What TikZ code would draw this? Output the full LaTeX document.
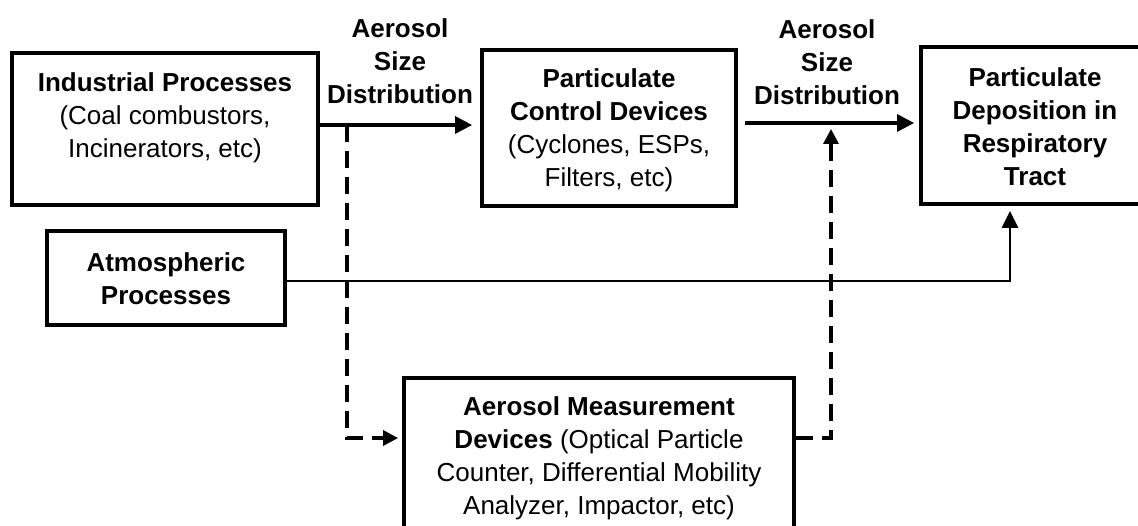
\documentclass[tikz,border=0pt]{standalone}
\usepackage{fontspec}
\setmainfont{Liberation Sans}
\usetikzlibrary{arrows.meta,calc}
\begin{document}
\begin{tikzpicture}[x=1pt,y=-1pt,
  box/.style={draw=black, line width=3.8pt, rectangle, inner sep=0pt},
  txt/.style={align=center, inner sep=0pt, font=\fontsize{26}{33}\selectfont},
  arr/.style={line width=3.2pt, -{Triangle[length=17pt,width=17pt]}},
  thinarr/.style={line width=2.6pt, -{Triangle[length=17pt,width=16pt]}},
  dasharr/.style={line width=3.2pt, dash pattern=on 17pt off 9pt, -{Triangle[length=15pt,width=15pt]}}]
\useasboundingbox (0,0) rectangle (1138,526);
\clip (0,0) rectangle (1138,526);
% boxes
\node[box, minimum width=306pt, minimum height=152pt] (ind) at (165,129) {};
\node[box, minimum width=254pt, minimum height=156pt] (ctl) at (609,128) {};
\node[box, minimum width=228pt, minimum height=157pt] (dep) at (1035,125.5) {};
\node[box, minimum width=238pt, minimum height=94pt] (atm) at (166,278) {};
\node[box, minimum width=390pt, minimum height=184pt] (mea) at (599,470) {};
% texts
\node[txt] (indT) at (165,118) {\textbf{Industrial Processes}\\(Coal combustors,\\Incinerators, etc)};
\node[txt] (ctlT) at (609,130) {\textbf{Particulate}\\\textbf{Control Devices}\\(Cyclones, ESPs,\\Filters, etc)};
\node[txt] (depT) at (1035,127) {\textbf{Particulate}\\\textbf{Deposition in}\\\textbf{Respiratory}\\\textbf{Tract}};
\node[txt] (atmT) at (166,279) {\textbf{Atmospheric}\\\textbf{Processes}};
\node[txt] (meaT) at (599,458) {\textbf{Aerosol Measurement}\\\textbf{Devices} (Optical Particle\\Counter, Differential Mobility\\Analyzer, Impactor, etc)};
\node[txt] (lab1) at (400,61) {\textbf{Aerosol}\\\textbf{Size}\\\textbf{Distribution}};
\node[txt] (lab2) at (827,62) {\textbf{Aerosol}\\\textbf{Size}\\\textbf{Distribution}};
% coordinates for dashed paths
\coordinate (d1) at (347,125);
\coordinate (d2) at (347,438);
\coordinate (d3) at (831,438);
\coordinate (d4) at (831,123);
% connectors
\draw[arr, shorten >=8pt] ([yshift=4pt]ind.east) -- ([yshift=4pt]ind.east -| ctl.west);
\draw[arr, shorten <=7pt, shorten >=5pt] ([yshift=5pt]ctl.east) -- ([yshift=5pt]ctl.east -| dep.west);
\draw[thinarr, shorten >=5pt] ([yshift=-3pt]atm.east) -| ([xshift=-25pt]dep.south);
\draw[dasharr, shorten >=4pt] (d1) -- (d2) -- (d2 -| mea.west);
\draw[dasharr, shorten >=6pt] (mea.east |- d3) -- (d3) -- (d4);
\end{tikzpicture}
\end{document}
